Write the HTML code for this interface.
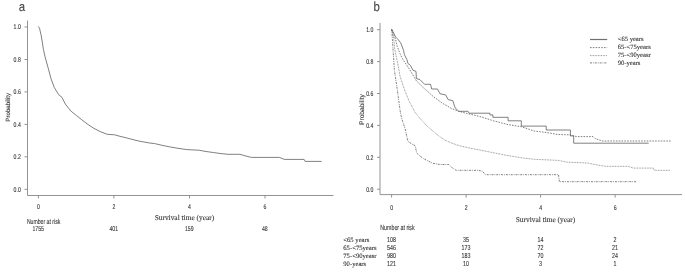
<!DOCTYPE html>
<html><head><meta charset="utf-8"><style>html,body{margin:0;padding:0;background:#fff}svg{display:block;filter:blur(0.3px)}.sans{font-family:"Liberation Sans",sans-serif}.serif{font-family:"Liberation Serif",serif}text{text-rendering:geometricPrecision;stroke:#333;stroke-width:0.1px}</style></head><body>
<svg width="685" height="273" viewBox="0 0 685 273">
<rect width="685" height="273" fill="#fff"/>
<g stroke="#939393" stroke-width="1" fill="none" shape-rendering="auto">
<path d="M27.5,20.5 V195.5 H333.5"/>
<path d="M24.5,189.3 H27.5"/>
<path d="M24.5,156.8 H27.5"/>
<path d="M24.5,124.4 H27.5"/>
<path d="M24.5,91.9 H27.5"/>
<path d="M24.5,59.5 H27.5"/>
<path d="M24.5,27.0 H27.5"/>
<path d="M38.4,195.5 V198.5"/>
<path d="M113.9,195.5 V198.5"/>
<path d="M189.5,195.5 V198.5"/>
<path d="M265.0,195.5 V198.5"/>
<path d="M380,23 V194.6 H682"/>
<path d="M377,189.2 H380"/>
<path d="M377,157.3 H380"/>
<path d="M377,125.4 H380"/>
<path d="M377,93.5 H380"/>
<path d="M377,61.6 H380"/>
<path d="M377,29.7 H380"/>
<path d="M391.6,194.6 V197.6"/>
<path d="M466.1,194.6 V197.6"/>
<path d="M540.6,194.6 V197.6"/>
<path d="M615.1,194.6 V197.6"/>
</g>
<g class="sans" fill="#333">
<text transform="translate(18.8,10.9) scale(0.88,1)" font-size="13" fill="#444">a</text>
<text transform="translate(373.6,11.4) scale(0.88,1)" font-size="13" fill="#444">b</text>
<text transform="translate(17.2,191.6) scale(0.76,1)" font-size="6.8" text-anchor="middle">0.0</text>
<text transform="translate(369.8,191.5) scale(0.76,1)" font-size="6.8" text-anchor="middle">0.0</text>
<text transform="translate(17.2,159.1) scale(0.76,1)" font-size="6.8" text-anchor="middle">0.2</text>
<text transform="translate(369.8,159.6) scale(0.76,1)" font-size="6.8" text-anchor="middle">0.2</text>
<text transform="translate(17.2,126.7) scale(0.76,1)" font-size="6.8" text-anchor="middle">0.4</text>
<text transform="translate(369.8,127.7) scale(0.76,1)" font-size="6.8" text-anchor="middle">0.4</text>
<text transform="translate(17.2,94.2) scale(0.76,1)" font-size="6.8" text-anchor="middle">0.6</text>
<text transform="translate(369.8,95.8) scale(0.76,1)" font-size="6.8" text-anchor="middle">0.6</text>
<text transform="translate(17.2,61.8) scale(0.76,1)" font-size="6.8" text-anchor="middle">0.8</text>
<text transform="translate(369.8,63.9) scale(0.76,1)" font-size="6.8" text-anchor="middle">0.8</text>
<text transform="translate(17.2,29.3) scale(0.76,1)" font-size="6.8" text-anchor="middle">1.0</text>
<text transform="translate(369.8,32.0) scale(0.76,1)" font-size="6.8" text-anchor="middle">1.0</text>
<text transform="translate(38.4,209.1) scale(0.76,1)" font-size="6.8" text-anchor="middle">0</text>
<text transform="translate(391.6,210.0) scale(0.76,1)" font-size="6.8" text-anchor="middle">0</text>
<text transform="translate(113.9,209.1) scale(0.76,1)" font-size="6.8" text-anchor="middle">2</text>
<text transform="translate(466.1,210.0) scale(0.76,1)" font-size="6.8" text-anchor="middle">2</text>
<text transform="translate(189.5,209.1) scale(0.76,1)" font-size="6.8" text-anchor="middle">4</text>
<text transform="translate(540.6,210.0) scale(0.76,1)" font-size="6.8" text-anchor="middle">4</text>
<text transform="translate(265.0,209.1) scale(0.76,1)" font-size="6.8" text-anchor="middle">6</text>
<text transform="translate(615.1,210.0) scale(0.76,1)" font-size="6.8" text-anchor="middle">6</text>
<text transform="translate(10.3,107.3) rotate(-90)" font-size="6.15" text-anchor="middle">Probability</text>
<text transform="translate(363.6,109.5) rotate(-90)" font-size="6.6" text-anchor="middle">Probability</text>
<text transform="translate(26.9,223.9) scale(0.715,1)" font-size="7.2" text-anchor="start">Number at risk</text>
<text transform="translate(38.2,231.3) scale(0.74,1)" font-size="7" text-anchor="middle">1755</text>
<text transform="translate(113.8,231.3) scale(0.74,1)" font-size="7" text-anchor="middle">401</text>
<text transform="translate(189.3,231.3) scale(0.74,1)" font-size="7" text-anchor="middle">159</text>
<text transform="translate(264.8,231.3) scale(0.74,1)" font-size="7" text-anchor="middle">48</text>
<text transform="translate(380.3,230.0) scale(0.715,1)" font-size="7.4" text-anchor="start">Number at risk</text>
<text transform="translate(391.4,242.3) scale(0.74,1)" font-size="7.2" text-anchor="middle">108</text>
<text transform="translate(465.9,242.3) scale(0.74,1)" font-size="7.2" text-anchor="middle">35</text>
<text transform="translate(540.4,242.3) scale(0.74,1)" font-size="7.2" text-anchor="middle">14</text>
<text transform="translate(614.9,242.3) scale(0.74,1)" font-size="7.2" text-anchor="middle">2</text>
<text transform="translate(391.4,250.2) scale(0.74,1)" font-size="7.2" text-anchor="middle">546</text>
<text transform="translate(465.9,250.2) scale(0.74,1)" font-size="7.2" text-anchor="middle">173</text>
<text transform="translate(540.4,250.2) scale(0.74,1)" font-size="7.2" text-anchor="middle">72</text>
<text transform="translate(614.9,250.2) scale(0.74,1)" font-size="7.2" text-anchor="middle">21</text>
<text transform="translate(391.4,258.2) scale(0.74,1)" font-size="7.2" text-anchor="middle">980</text>
<text transform="translate(465.9,258.2) scale(0.74,1)" font-size="7.2" text-anchor="middle">183</text>
<text transform="translate(540.4,258.2) scale(0.74,1)" font-size="7.2" text-anchor="middle">70</text>
<text transform="translate(614.9,258.2) scale(0.74,1)" font-size="7.2" text-anchor="middle">24</text>
<text transform="translate(391.4,266.2) scale(0.74,1)" font-size="7.2" text-anchor="middle">121</text>
<text transform="translate(465.9,266.2) scale(0.74,1)" font-size="7.2" text-anchor="middle">10</text>
<text transform="translate(540.4,266.2) scale(0.74,1)" font-size="7.2" text-anchor="middle">3</text>
<text transform="translate(614.9,266.2) scale(0.74,1)" font-size="7.2" text-anchor="middle">1</text>
</g>
<g class="serif" fill="#333">
<text x="184.4" y="220.2" font-size="7.4" text-anchor="middle">Survival time (year)</text>
<text x="545.5" y="221.8" font-size="7.4" text-anchor="middle">Survival time (year)</text>
<text x="343.3" y="242.0" font-size="6.65">&lt;65 years</text>
<text x="343.3" y="249.9" font-size="6.65">65-&lt;75years</text>
<text x="343.3" y="257.9" font-size="6.65">75-&lt;90yeasr</text>
<text x="343.3" y="265.9" font-size="6.65">90-years</text>
<text x="617.7" y="41.2" font-size="6.6">&lt;65 years</text>
<text x="617.7" y="49.3" font-size="6.6">65-&lt;75years</text>
<text x="617.7" y="57.3" font-size="6.6">75-&lt;90yeasr</text>
<text x="617.7" y="64.6" font-size="6.6">90-years</text>
</g>
<g fill="none" stroke="#555" stroke-width="0.75" stroke-linejoin="miter">
<polyline points="38.2,26.4 39.5,28.2 41.0,34.7 42.3,42.0 43.4,49.3 45.0,56.6 46.5,62.0 48.4,68.8 51.0,78.7 54.3,87.5 58.7,94.7 62.0,97.4 65.3,104.0 70.8,111.0 76.3,115.4 81.8,119.8 88.0,124.5 94.0,128.4 100.0,131.5 107.2,134.3 114.5,134.8 120.0,136.3 126.2,137.8 133.0,139.6 140.0,141.3 149.7,143.0 154.7,143.6 162.0,145.3 169.3,146.8 178.0,148.3 186.9,149.6 198.7,150.2 206.0,151.5 213.3,152.5 221.0,153.6 228.0,154.3 239.9,154.3 245.0,155.8 251.4,157.4 279.4,157.4 284.4,159.4 304.1,159.4 305.1,161.4 321.6,161.4"/>
<polyline points="391.7,29.4 393.6,33.0 395.6,37.0 398.2,39.6 400.8,43.1 403.5,50.2 404.4,54.6 407.0,59.8 407.9,63.4 410.6,65.6 412.9,70.2 416.0,71.4 416.4,78.5 419.9,79.6 422.3,82.0 424.6,84.3 430.5,84.3 431.7,89.0 437.5,89.0 439.9,93.7 445.7,94.9 448.1,99.6 452.8,100.7 455.1,107.8 458.7,111.3 468.0,111.3 469.2,113.2 489.9,113.2 489.9,114.9 492.9,114.9 492.9,117.3 508.1,117.3 508.1,120.8 521.3,120.8 521.3,126.1 546.2,126.1 546.2,130.0 570.4,130.0 570.4,135.9 573.7,135.9 573.7,143.2 648.7,143.2"/>
<polyline points="391.7,29.4 393.6,34.5 395.6,39.6 397.3,46.6 400.0,53.7 402.6,59.0 406.1,64.2 409.6,69.5 416.4,80.8 423.5,87.8 432.8,96.1 442.2,103.1 451.6,108.5 458.7,111.3 468.0,113.7 479.8,116.5 493.5,120.8 508.1,124.6 521.3,126.7 534.5,131.1 546.2,132.5 558.0,134.5 569.3,134.8 576.6,136.6 593.1,136.6 594.9,138.4 602.2,141.0 670.7,141.0" stroke-dasharray="1.6,1.2"/>
<polyline points="391.7,29.4 393.8,39.6 394.7,48.4 396.4,57.2 398.2,66.0 400.0,76.1 404.7,90.2 409.4,101.9 415.2,112.5 419.9,118.3 426.5,125.5 432.8,131.0 438.5,135.7 444.5,139.9 451.5,143.0 459.2,145.7 470.0,148.1 487.6,151.6 505.2,155.1 522.8,158.0 534.5,159.3 558.3,160.4 567.5,162.2 587.6,163.0 596.0,164.8 605.9,166.3 627.9,166.3 633.4,168.1 653.5,168.1 654.2,170.3 670.0,170.3" stroke-dasharray="0.8,0.8" stroke="#666"/>
<polyline points="391.7,29.4 392.4,39.6 393.1,50.2 393.8,60.7 394.3,69.5 396.1,81.6 397.6,92.0 400.5,113.5 402.5,121.0 404.9,128.1 406.5,135.0 407.9,141.3 411.0,143.5 415.2,145.7 416.7,153.0 420.0,156.0 424.0,158.9 432.8,163.3 440.0,164.5 448.8,164.5 451.7,167.4 456.1,170.3 478.0,170.3 482.4,171.2 485.4,174.7 558.5,174.7 559.4,181.7 637.0,181.7" stroke-dasharray="2,1,0.8,1"/>
<path d="M590,39.5 H607.2" stroke-width="1.2" stroke="#707070"/>
<path d="M590,47.6 H607.2" stroke-dasharray="1.6,1.2"/>
<path d="M590,55.6 H607.2" stroke-dasharray="0.8,0.8" stroke="#666"/>
<path d="M590,62.9 H607.2" stroke-dasharray="2,1,0.8,1"/>
</g>
</svg>
</body></html>
